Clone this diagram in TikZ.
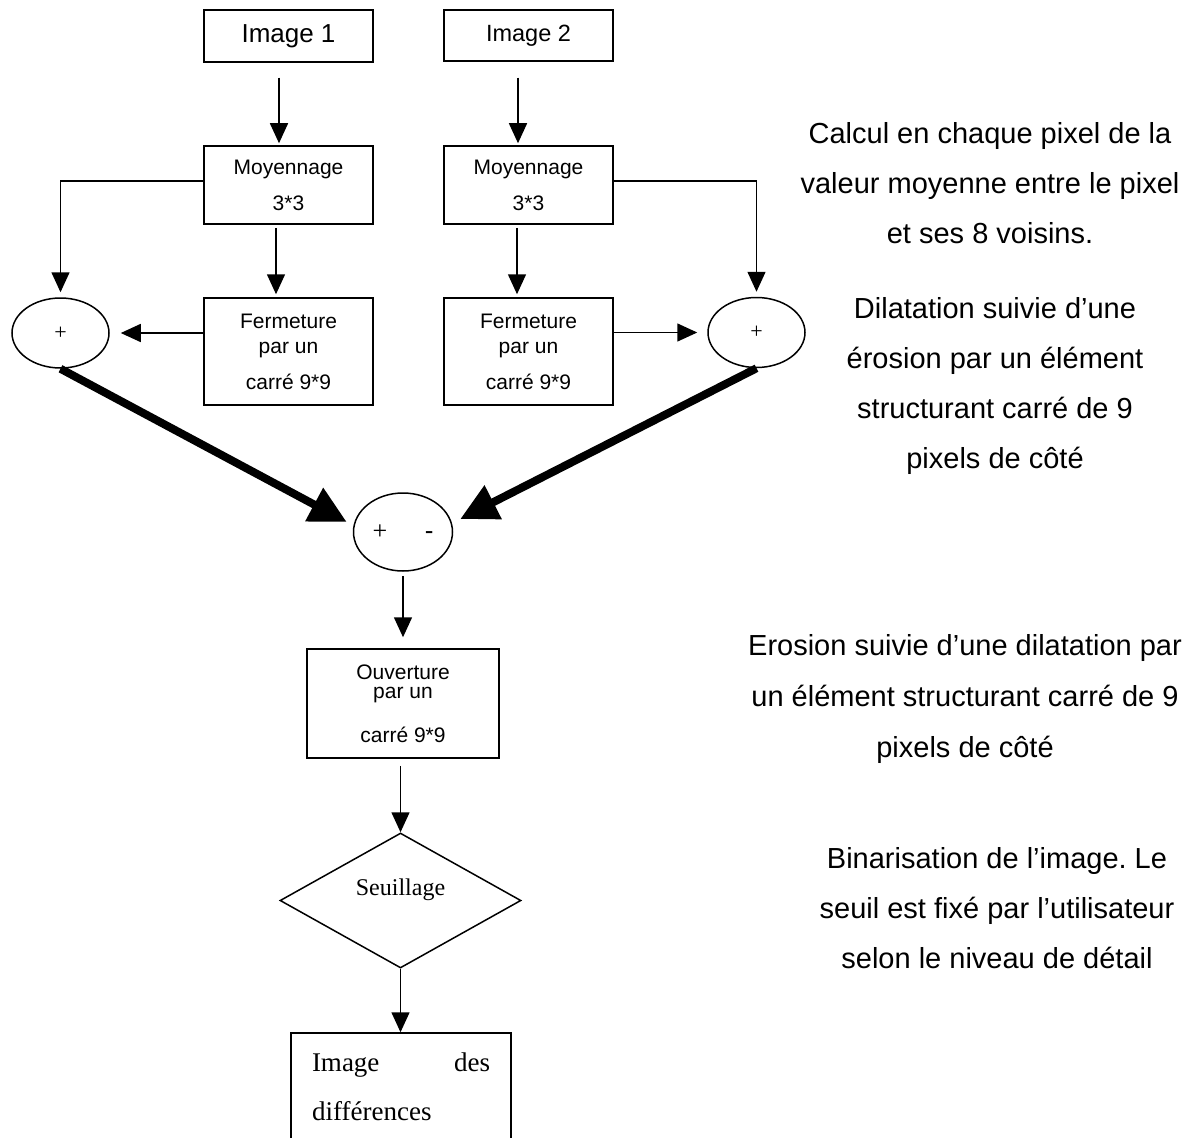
\documentclass[tikz,border=0pt]{standalone}
\usepackage{fontspec}
\usetikzlibrary{arrows.meta,shapes.geometric,calc}
\newfontfamily\arialf{Liberation Sans}
\newfontfamily\timesf{Liberation Serif}
\frenchspacing
\begin{document}
\begin{tikzpicture}[x=1pt,y=-1pt,
  boxn/.style={draw, line width=1.5pt, rectangle, inner sep=0pt, minimum width=169pt, align=center,
    font=\arialf\fontsize{21pt}{25pt}\selectfont},
  opell/.style={draw, ellipse, line width=1.5pt, inner sep=0pt},
  arr/.style={-{Triangle[length=20pt,width=18pt]}, line width=1.5pt},
  bigarr/.style={-{Triangle[length=37pt,width=36pt]}, line width=8pt},
  note/.style={anchor=base, inner sep=0pt, font=\arialf\fontsize{29pt}{29pt}\selectfont},
  restxt/.style={inner sep=0pt, font=\timesf\fontsize{27pt}{27pt}\selectfont}]
\path[use as bounding box] (0,0) rectangle (1201,1137);
\clip (0,0) rectangle (1201,1137);

% boxes
\node[boxn, minimum height=52pt, font=\arialf\fontsize{26pt}{30pt}\selectfont] (img1) at (288.5,36) {Image 1};
\node[boxn, minimum height=51pt, font=\arialf\fontsize{23.5pt}{28pt}\selectfont] (img2) at (528.5,35.5) {Image 2};
\node[boxn, minimum height=78pt, font=\arialf\fontsize{21pt}{36pt}\selectfont] (moy1) at (288.5,185) {Moyennage\\3*3};
\node[boxn, minimum height=78pt, font=\arialf\fontsize{21pt}{36pt}\selectfont] (moy2) at (528.5,185) {Moyennage\\3*3};
\node[boxn, minimum height=107pt] (ferm1) at (288.5,351.5) {Fermeture\\par un\\[11pt]carré 9*9};
\node[boxn, minimum height=107pt] (ferm2) at (528.5,351.5) {Fermeture\\par un\\[11pt]carré 9*9};
\node[opell, minimum width=97pt, minimum height=70pt, font=\timesf\fontsize{22pt}{22pt}\selectfont] (lell) at (60.5,333) {+};
\node[opell, minimum width=97pt, minimum height=70pt, font=\timesf\fontsize{22pt}{22pt}\selectfont] (rell) at (756.5,332.5) {+};
\node[opell, minimum width=99pt, minimum height=78pt] (cell) at (403,532)
  {\makebox[61pt]{{\timesf\fontsize{26pt}{26pt}\selectfont +}\hfill{\arialf\fontsize{26pt}{26pt}\selectfont -}}};
\node[boxn, minimum width=192pt, minimum height=109pt, font=\arialf\fontsize{21pt}{19pt}\selectfont] (ouv) at (403,703.5)
  {Ouverture\\par un\\[23pt]carré 9*9};
\node[draw, diamond, line width=1.5pt, minimum width=241pt, minimum height=135pt, inner sep=0pt,
  font=\timesf\fontsize{24pt}{24pt}\selectfont] (dia) at (400.5,900.5) {\raisebox{5.5pt}[0pt][0pt]{Seuillage}};
\node[draw, line width=1.5pt, minimum width=220pt, minimum height=150pt, inner sep=0pt] (res) at (401,1108) {};
\node[restxt, anchor=base] (resa) at (401,1071) {\makebox[178pt][s]{Image des}};
\node[restxt, anchor=base west] (resb) at (312,1120) {différences};

% connectors
\draw[arr, shorten <=15pt, shorten >=2pt] ([xshift=-9.5pt]img1.south) -- ([xshift=-9.5pt]moy1.north);
\draw[arr, shorten <=16pt, shorten >=2pt] ([xshift=-10.5pt]img2.south) -- ([xshift=-10.5pt]moy2.north);
\draw[arr, shorten <=3pt, shorten >=3pt] ([xshift=-12.5pt]moy1.south) -- ([xshift=-12.5pt]ferm1.north);
\draw[arr, shorten <=3pt, shorten >=3pt] ([xshift=-11.5pt]moy2.south) -- ([xshift=-11.5pt]ferm2.north);
\draw[arr, shorten >=5pt] ([yshift=4pt]moy1.west) -| (lell.north);
\draw[arr, shorten >=5pt] ([yshift=4pt]moy2.east) -| (rell.north);
\draw[arr, shorten >=11pt] (ferm1.west |- lell.east) -- (lell.east);
\draw[arr, shorten >=10pt] (ferm2.east |- rell.west) -- (rell.west);
\draw[bigarr] (lell.south) -- ([shift={(-6,-10)}]cell.west);
\draw[bigarr] (rell.south) -- ([shift={(7,-13)}]cell.east);
\draw[arr, shorten <=4pt, shorten >=11pt] (cell.south) -- (cell.south |- ouv.north);
\draw[arr, shorten <=7pt] (dia.north |- ouv.south) -- (dia.north);
\draw[arr] (dia.south) -- (dia.south |- res.north);

% notes
\node[note] (n1a) at (990,143) {Calcul en chaque pixel de la};
\node[note] (n1b) at (990,193) {valeur moyenne entre le pixel};
\node[note] (n1c) at (990,243) {et ses 8 voisins.};
\node[note] (n2a) at (995,318) {Dilatation suivie d’une};
\node[note] (n2b) at (995,368) {érosion par un élément};
\node[note] (n2c) at (995,418) {structurant carré de 9};
\node[note] (n2d) at (995,468) {pixels de côté};
\node[note] (n3a) at (965,655) {Erosion suivie d’une dilatation par};
\node[note] (n3b) at (965,706) {un élément structurant carré de 9};
\node[note] (n3c) at (965,757) {pixels de côté};
\node[note] (n4a) at (997,868) {Binarisation de l’image. Le};
\node[note] (n4b) at (997,918) {seuil est fixé par l’utilisateur};
\node[note] (n4c) at (997,968) {selon le niveau de détail};
\end{tikzpicture}
\end{document}
